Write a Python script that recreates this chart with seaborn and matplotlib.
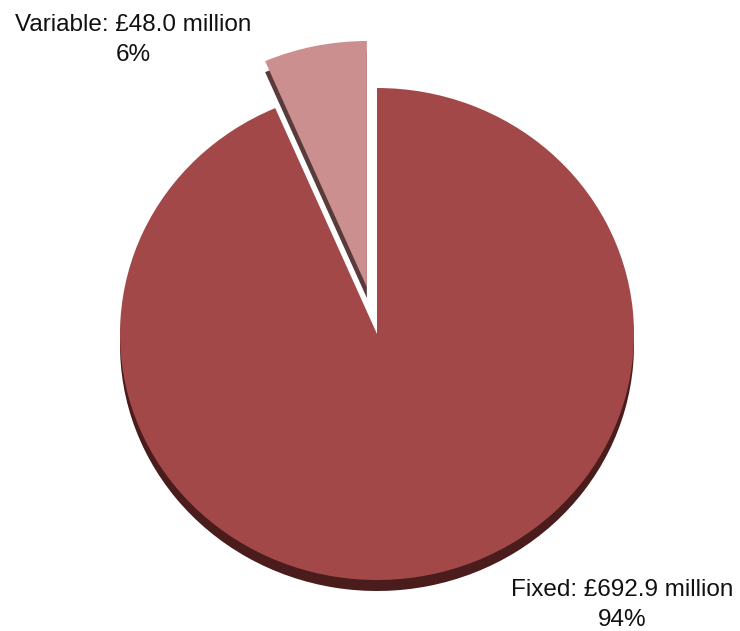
import matplotlib
matplotlib.use("Agg")
import matplotlib.pyplot as plt
import seaborn as sns

# ---- data ----
categories = ["Variable", "Fixed"]
values = [48.0, 692.9]          # £ million
face_colors = ["#CB8F8F", "#A34848"]
side_colors = ["#5A3B3B", "#4A1C1C"]

sns.set_theme(style="white")
plt.rcParams["font.family"] = ["Liberation Sans", "DejaVu Sans"]

W, H = 740, 631
fig = plt.figure(figsize=(W / 100, H / 100), dpi=100)
ax = fig.add_axes([0, 0, 1, 1])

rx, ry = 257.0, 246.0
k = rx / ry
cx, cy = 377.0, 334.0
depth = 11.0
explode = [0.195 * rx, 0.0]   # matplotlib explode offset is in data units

total = sum(values)
# shadow / side layer
ax.pie(values, colors=side_colors, startangle=90, counterclock=True,
       explode=explode, radius=rx, center=(cx, (H - cy - depth) * k),
       wedgeprops=dict(linewidth=0))
# top faces
ax.pie(values, colors=face_colors, startangle=90, counterclock=True,
       explode=explode, radius=rx, center=(cx, (H - cy) * k),
       wedgeprops=dict(linewidth=0))

ax.set_aspect("auto")
ax.set_xlim(0, W)
ax.set_ylim(0, H * k)
ax.axis("off")

label_pos = [(133, 40), (622, 605)]
for cat, val, (px, py) in zip(categories, values, label_pos):
    pct = round(val / total * 100)
    fig.text(px / W, 1 - py / H, f"{cat}: £{val:.1f} million\n{pct}%",
             ha="center", va="center", fontsize=17.5, color="#111111",
             linespacing=1.5)

fig.savefig("out.png", dpi=100, facecolor="white")
